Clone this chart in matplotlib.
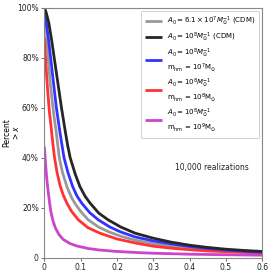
import matplotlib
matplotlib.use("Agg")
import matplotlib.pyplot as plt
from matplotlib.ticker import FixedLocator, FixedFormatter

# ---- data ----
gray_x = [0, 0.003, 0.006, 0.011, 0.016, 0.022, 0.027, 0.032, 0.041, 0.05, 0.063, 0.075, 0.085,
          0.1, 0.121, 0.15, 0.18, 0.21, 0.25, 0.3, 0.35, 0.4, 0.45, 0.5, 0.55, 0.6]
gray_y = [100, 95, 89, 79, 70, 62, 56, 51, 40, 34, 28, 24, 21.5,
          18.5, 15.1, 12.2, 10.2, 8.6, 7.0, 5.6, 4.6, 3.9, 3.3, 2.8, 2.4, 2.1]

black_x = [0, 0.005, 0.012, 0.02, 0.029, 0.038, 0.047, 0.057, 0.064, 0.071, 0.085, 0.098, 0.112,
           0.126, 0.15, 0.176, 0.21, 0.25, 0.3, 0.35, 0.4, 0.45, 0.5, 0.55, 0.6]
black_y = [100, 98, 94, 87, 78, 69, 60, 51, 45, 40, 33.4, 28.4, 24.6,
           21.8, 17.8, 15.1, 12.3, 9.8, 7.8, 6.2, 5.0, 4.1, 3.4, 2.9, 2.5]

blue_x = [0, 0.004, 0.010, 0.018, 0.025, 0.033, 0.043, 0.054, 0.065, 0.078, 0.09, 0.103, 0.125,
          0.149, 0.18, 0.21, 0.25, 0.3, 0.35, 0.4, 0.45, 0.5, 0.55, 0.6]
blue_y = [98, 95, 89, 79, 70, 60, 50, 40, 34, 28.4, 24.6, 21.8, 18,
          15.1, 12.3, 10.3, 8.3, 6.7, 5.5, 4.5, 3.7, 3.1, 2.6, 2.2]

red_x = [0, 0.002, 0.004, 0.007, 0.010, 0.014, 0.018, 0.023, 0.028, 0.035, 0.043, 0.052, 0.062,
         0.075, 0.094, 0.12, 0.153, 0.2, 0.25, 0.3, 0.35, 0.4, 0.45, 0.5, 0.55, 0.6]
red_y = [88, 83, 78, 71, 65, 58, 53, 46, 40, 34, 29, 25, 21.8,
         18.5, 15.1, 12, 9.8, 7.5, 5.9, 4.6, 3.8, 3.2, 2.7, 2.4, 2.1, 1.9]

mag_x = [0, 0.002, 0.004, 0.007, 0.010, 0.013, 0.017, 0.023, 0.03, 0.04, 0.052, 0.07, 0.089,
         0.12, 0.15, 0.2, 0.264, 0.3, 0.4, 0.5, 0.6]
mag_y = [44.4, 40, 36, 31, 27, 23.5, 19, 15.1, 12, 9.3, 7.3, 5.7, 4.7,
         3.7, 3.1, 2.5, 2.0, 1.8, 1.4, 1.2, 1.0]

labels = [
    r"$A_0 = 6.1\times10^7 M_{\odot}^{-1}$ (CDM)",
    r"$A_0 = 10^8 M_{\odot}^{-1}$ (CDM)",
    "$A_0 = 10^8 M_{\\odot}^{-1}$\nm$_{\\rm hm}$ = 10$^7$M$_{\\odot}$",
    "$A_0 = 10^8 M_{\\odot}^{-1}$\nm$_{\\rm hm}$ = 10$^8$M$_{\\odot}$",
    "$A_0 = 10^8 M_{\\odot}^{-1}$\nm$_{\\rm hm}$ = 10$^9$M$_{\\odot}$",
]
x_ticks = [0, 0.1, 0.2, 0.3, 0.4, 0.5, 0.6]
x_tick_labels = ["0", "0.1", "0.2", "0.3", "0.4", "0.5", "0.6"]
y_ticks = [0, 20, 40, 60, 80, 100]
y_tick_labels = ["0", "20%", "40%", "60%", "80%", "100%"]

# ---- figure ----
fig = plt.figure(figsize=(2.69, 2.73), dpi=100)
ax = fig.add_axes([0.165, 0.056, 0.81, 0.916])

lw = 2.0
series = [
    (gray_x, gray_y, "#999999"),
    (black_x, black_y, "#262626"),
    (blue_x, blue_y, "#3333ff"),
    (red_x, red_y, "#ff3333"),
    (mag_x, mag_y, "#cc44cc"),
]
order = [0, 3, 2, 1, 4]
handles = [None] * 5
for i in order:
    xs, ys, c = series[i]
    h, = ax.plot(xs, ys, color=c, lw=lw, label=labels[i], solid_capstyle="butt",
                 solid_joinstyle="round")
    handles[i] = h

ax.set_xlim(0, 0.6)
ax.set_ylim(0, 100)
ax.xaxis.set_major_locator(FixedLocator(x_ticks))
ax.xaxis.set_major_formatter(FixedFormatter(x_tick_labels))
ax.yaxis.set_major_locator(FixedLocator(y_ticks))
ax.yaxis.set_major_formatter(FixedFormatter(y_tick_labels))
ax.tick_params(labelsize=5.5, length=2.5, width=0.6, color="#555555", labelcolor="#222222", pad=1.5)
for s in ax.spines.values():
    s.set_color("#888888")
    s.set_linewidth(0.8)

ax.set_ylabel("Percent\n> $x$", fontsize=5.5, linespacing=1.0)
ax.yaxis.set_label_coords(-0.108, 0.5)

leg = ax.legend(handles=handles, labels=labels, loc="upper right", fontsize=5.0,
                frameon=True, handlelength=2.4, borderaxespad=0.45, labelspacing=0.35,
                borderpad=0.6, handletextpad=0.7)
leg.get_frame().set_edgecolor("#bbbbbb")
leg.get_frame().set_linewidth(0.6)

ax.text(0.461, 36.2, "10,000 realizations", fontsize=5.5, ha="center", va="center", color="#222222")

fig.savefig("out.png", dpi=100)
